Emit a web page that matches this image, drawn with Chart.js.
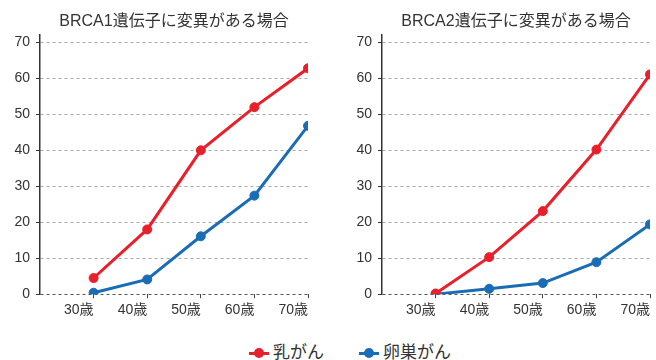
<!DOCTYPE html>
<html lang="ja">
<head>
<meta charset="utf-8">
<script src="https://cdn.jsdelivr.net/npm/chart.js@4/dist/chart.umd.min.js"></script>
<style>
  html, body { margin: 0; padding: 0; background: #fff; }
  #wrap { position: relative; width: 656px; height: 360px; overflow: hidden; font-family: 'Liberation Sans', 'Noto Sans CJK JP', sans-serif; }
  .box { position: absolute; top: 0; height: 325px; }
  #legend { position: absolute; left: 0; top: 343px; width: 700px; height: 20px; line-height: 20px; display: flex; justify-content: center; gap: 35px; font-size: 17px; color: #333; }
  .item { display: flex; align-items: center; height: 20px; }
  .mark { position: relative; width: 20px; height: 20px; margin-right: 4px; }
  .mark i { position: absolute; left: 0; top: 8.5px; width: 20px; height: 3px; }
  .mark b { position: absolute; left: 5px; top: 5px; width: 10px; height: 10px; border-radius: 50%; }
</style>
</head>
<body>
<div id="wrap">
  <div class="box" style="left:0;width:344px"><canvas id="c1"></canvas></div>
  <div class="box" style="left:342px;width:314px"><canvas id="c2"></canvas></div>
  <div id="legend"></div>
</div>
<script>
// ages on the x axis and their labels
const ages = [30, 40, 50, 60, 70];
const ageLabels = ['30歳', '40歳', '50歳', '60歳', '70歳'];
const yTicks = [0, 10, 20, 30, 40, 50, 60, 70];

const seriesNames = ['乳がん', '卵巣がん'];
const seriesColors = ['#e8202b', '#1a6db5'];

// BRCA1 (%)
const brca1Breast = [4.5, 18, 40, 52, 62.8];
const brca1Ovary = [0.4, 4.1, 16.1, 27.4, 46.8];
// BRCA2 (%)
const brca2Breast = [0.2, 10.3, 23.1, 40.2, 61.1];
const brca2Ovary = [0, 1.5, 3.1, 8.9, 19.4];

const FONT = "'Liberation Sans', 'Noto Sans CJK JP', sans-serif";

function makeDataset(name, color, values) {
  return {
    label: name,
    data: values.map((v, i) => ({ x: ages[i], y: v })),
    borderColor: color,
    backgroundColor: color,
    pointBackgroundColor: color,
    pointBorderColor: color,
    borderWidth: 3,
    pointRadius: 4.5,
    pointBorderWidth: 1,
    tension: 0
  };
}

function makeChart(id, title, breast, ovary, padRight) {
  return new Chart(document.getElementById(id), {
    type: 'line',
    data: {
      datasets: [
        makeDataset(seriesNames[0], seriesColors[0], breast),
        makeDataset(seriesNames[1], seriesColors[1], ovary)
      ]
    },
    options: {
      responsive: true,
      maintainAspectRatio: false,
      animation: false,
      layout: { padding: { left: 0, right: padRight, top: 0, bottom: 2 } },
      plugins: {
        legend: { display: false },
        tooltip: { enabled: false },
        title: {
          display: true,
          text: title,
          fullSize: false,
          color: '#333',
          font: { family: FONT, size: 16, weight: 'normal' },
          padding: { top: 12, bottom: 4 }
        }
      },
      scales: {
        x: {
          type: 'linear',
          min: 20,
          max: 70,
          afterBuildTicks: s => { s.ticks = ages.map(v => ({ value: v })); },
          border: { display: false },
          grid: { drawOnChartArea: false, drawTicks: true, tickLength: 4, tickColor: '#444', tickWidth: 1 },
          ticks: {
            align: 'end',
            padding: 4,
            color: '#333',
            font: { family: FONT, size: 14 },
            maxRotation: 0,
            callback: (v, i) => ageLabels[i]
          }
        },
        y: {
          min: 0,
          max: 72,
          afterBuildTicks: s => { s.ticks = yTicks.map(v => ({ value: v })); },
          afterFit: s => { s.width = 40; },
          border: { display: true, color: '#333', width: 1.5, dash: [3, 3] },
          grid: {
            color: c => (c.tick && c.tick.value === 0) ? '#555' : '#aaa',
            lineWidth: 1,
            tickLength: 4,
            tickColor: '#333',
            tickWidth: 1
          },
          ticks: {
            padding: 6,
            color: '#333',
            font: { family: FONT, size: 14 }
          }
        }
      }
    }
  });
}

makeChart('c1', 'BRCA1遺伝子に変異がある場合', brca1Breast, brca1Ovary, 36);
makeChart('c2', 'BRCA2遺伝子に変異がある場合', brca2Breast, brca2Ovary, 6);

// legend built from the series arrays
const legendEl = document.getElementById('legend');
seriesNames.forEach((name, i) => {
  const item = document.createElement('div');
  item.className = 'item';
  item.innerHTML = `<span class="mark"><i style="background:${seriesColors[i]}"></i><b style="background:${seriesColors[i]}"></b></span><span>${name}</span>`;
  legendEl.appendChild(item);
});
</script>
</body>
</html>
